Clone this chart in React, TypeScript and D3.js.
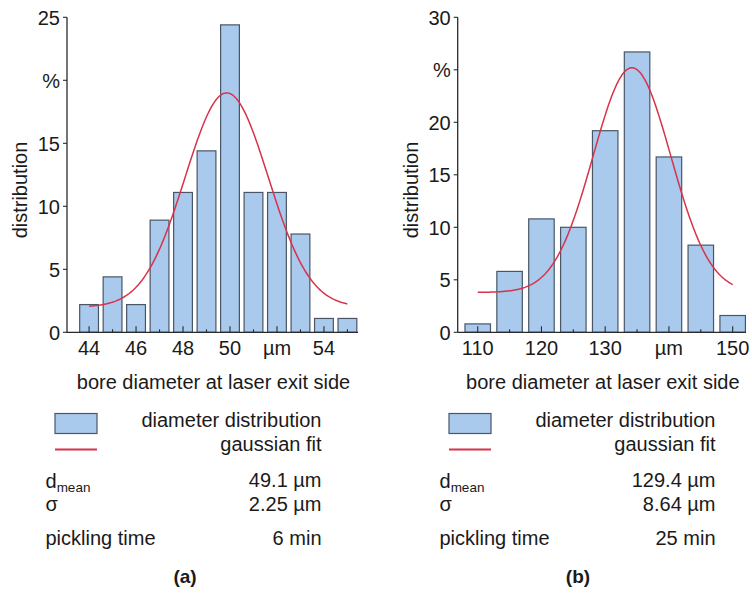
import { useEffect, useRef } from 'react'
import * as d3 from 'd3'

// panel (a): 6 min pickling
const binsA = [44, 45, 46, 47, 48, 49, 50, 51, 52, 53, 54, 55]
const valuesA = [2.2, 4.4, 2.2, 8.9, 11.1, 14.4, 24.4, 11.1, 11.1, 7.8, 1.1, 1.1]
const xTickLabelsA = ['44', '46', '48', '50', 'µm', '54']
const xMajorA = [44, 46, 48, 50, 52, 54]
const yTicksA = [0, 5, 10, 15, 20, 25]
const yTickLabelsA = ['0', '5', '10', '15', '%', '25']
const fitA = { xc: 49.86, sigma: 1.77, amp: 17.0, y0: 2.0, from: 44, to: 55 }
const statsA = ['49.1 µm', '2.25 µm', '6 min']

// panel (b): 25 min pickling
const binsB = [110, 115, 120, 125, 130, 135, 140, 145, 150]
const valuesB = [0.8, 5.8, 10.8, 10.0, 19.2, 26.7, 16.7, 8.3, 1.6]
const xTickLabelsB = ['110', '120', '130', 'µm', '150']
const xMajorB = [110, 120, 130, 140, 150]
const yTicksB = [0, 5, 10, 15, 20, 25, 30]
const yTickLabelsB = ['0', '5', '10', '15', '20', '%', '30']
const fitB = { xc: 134.2, sigma: 6.1, amp: 21.4, y0: 3.8, from: 110, to: 150 }
const statsB = ['129.4 µm', '8.64 µm', '25 min']

const FONT = "'Liberation Sans', Arial, Helvetica, sans-serif"
const BAR_FILL = '#a9c9ed'
const BAR_STROKE = '#4a5666'
const FIT_COLOR = '#d8334a'
const AXIS_COLOR = '#2b2b2b'

interface Panel {
  bins: number[]
  values: number[]
  xMajor: number[]
  xLabels: string[]
  yTicks: number[]
  yLabels: string[]
  fit: { xc: number; sigma: number; amp: number; y0: number; from: number; to: number }
  stats: string[]
  tag: string
  xDomain: [number, number]
  xRange: [number, number]
  yMax: number
  barWidth: number
  minorStep: number
  yLabelX: number
  legendX: number
  textRight: number
  tagX: number
}

const panels: Panel[] = [
  {
    bins: binsA, values: valuesA, xMajor: xMajorA, xLabels: xTickLabelsA,
    yTicks: yTicksA, yLabels: yTickLabelsA, fit: fitA, stats: statsA, tag: '(a)',
    xDomain: [43.06, 55.45], xRange: [67, 358], yMax: 25, barWidth: 0.8, minorStep: 1,
    yLabelX: 27, legendX: 55, textRight: 321.5, tagX: 185,
  },
  {
    bins: binsB, values: valuesB, xMajor: xMajorB, xLabels: xTickLabelsB,
    yTicks: yTicksB, yLabels: yTickLabelsB, fit: fitB, stats: statsB, tag: '(b)',
    xDomain: [106.86, 152.09], xRange: [457.7, 746], yMax: 30, barWidth: 4, minorStep: 5,
    yLabelX: 418, legendX: 449, textRight: 715.5, tagX: 578,
  },
]

function drawPanel(svg: d3.Selection<SVGSVGElement, unknown, null, undefined>, p: Panel) {
  const y0px = 332.3
  const x = d3.scaleLinear().domain(p.xDomain).range(p.xRange)
  const y = d3.scaleLinear().domain([0, p.yMax]).range([y0px, 17.3])
  const g = svg.append('g').attr('font-family', FONT).attr('fill', '#1a1a1a')

  // bars
  g.append('g')
    .selectAll('rect')
    .data(p.bins)
    .join('rect')
    .attr('x', (d) => x(d - p.barWidth / 2))
    .attr('width', (d) => x(d + p.barWidth / 2) - x(d - p.barWidth / 2))
    .attr('y', (_, i) => y(p.values[i]))
    .attr('height', (_, i) => y(0) - y(p.values[i]))
    .attr('fill', BAR_FILL)
    .attr('stroke', BAR_STROKE)
    .attr('stroke-width', 1.2)

  // x ticks (inward), major + minor
  const minor = d3.range(p.bins[0], p.bins[p.bins.length - 1] + 0.001, p.minorStep)
  g.append('g')
    .selectAll('line')
    .data(minor)
    .join('line')
    .attr('x1', (d) => x(d))
    .attr('x2', (d) => x(d))
    .attr('y1', y0px)
    .attr('y2', (d) => y0px - (p.xMajor.includes(d) ? 6 : 3))
    .attr('stroke', AXIS_COLOR)
    .attr('stroke-width', 1.1)

  g.append('g')
    .selectAll('text')
    .data(p.xMajor)
    .join('text')
    .attr('x', (d) => x(d))
    .attr('y', 355)
    .attr('text-anchor', 'middle')
    .attr('font-size', 20)
    .text((_, i) => p.xLabels[i])

  // y ticks (outward)
  g.append('g')
    .selectAll('line')
    .data(p.yTicks)
    .join('line')
    .attr('x1', p.xRange[0] - 4)
    .attr('x2', p.xRange[0])
    .attr('y1', (d) => y(d))
    .attr('y2', (d) => y(d))
    .attr('stroke', AXIS_COLOR)
    .attr('stroke-width', 1.1)

  g.append('g')
    .selectAll('text')
    .data(p.yTicks)
    .join('text')
    .attr('x', p.xRange[0] - 7)
    .attr('y', (d) => y(d))
    .attr('dy', '0.36em')
    .attr('text-anchor', 'end')
    .attr('font-size', 20)
    .text((_, i) => p.yLabels[i])

  // axis lines
  g.append('line')
    .attr('x1', p.xRange[0]).attr('x2', p.xRange[1])
    .attr('y1', y0px).attr('y2', y0px)
    .attr('stroke', AXIS_COLOR).attr('stroke-width', 1.3)
  g.append('line')
    .attr('x1', p.xRange[0]).attr('x2', p.xRange[0])
    .attr('y1', y0px).attr('y2', y(p.yMax))
    .attr('stroke', AXIS_COLOR).attr('stroke-width', 1.3)

  // gaussian fit from fitted parameters
  const f = p.fit
  const xs = d3.range(f.from, f.to + 0.0001, (f.to - f.from) / 200)
  const line = d3
    .line<number>()
    .x((d) => x(d))
    .y((d) => y(f.y0 + f.amp * Math.exp(-((d - f.xc) ** 2) / (2 * f.sigma ** 2))))
  g.append('path')
    .datum(xs)
    .attr('d', line)
    .attr('fill', 'none')
    .attr('stroke', FIT_COLOR)
    .attr('stroke-width', 1.5)

  // axis titles
  g.append('text')
    .attr('transform', `translate(${p.yLabelX},190) rotate(-90)`)
    .attr('text-anchor', 'middle')
    .attr('font-size', 20)
    .text('distribution')
  g.append('text')
    .attr('x', (p.xRange[0] + p.xRange[1]) / 2 + 1)
    .attr('y', 389)
    .attr('text-anchor', 'middle')
    .attr('font-size', 20)
    .text('bore diameter at laser exit side')

  // legend
  g.append('rect')
    .attr('x', p.legendX).attr('y', 413.5)
    .attr('width', 42).attr('height', 20)
    .attr('fill', BAR_FILL).attr('stroke', BAR_STROKE).attr('stroke-width', 1.2)
  g.append('line')
    .attr('x1', p.legendX).attr('x2', p.legendX + 42)
    .attr('y1', 449.5).attr('y2', 449.5)
    .attr('stroke', FIT_COLOR).attr('stroke-width', 2)

  const right = (txt: string, yy: number) =>
    g.append('text').attr('x', p.textRight).attr('y', yy).attr('text-anchor', 'end').attr('font-size', 20).text(txt)
  right('diameter distribution', 427)
  right('gaussian fit', 451)
  right(p.stats[0], 487)
  right(p.stats[1], 511)
  right(p.stats[2], 545)

  const dm = g.append('text').attr('x', p.legendX - 9.5).attr('y', 488).attr('font-size', 20)
  dm.append('tspan').text('d')
  dm.append('tspan').attr('font-size', 13.5).attr('dy', 4).text('mean')
  g.append('text').attr('x', p.legendX - 9.5).attr('y', 511).attr('font-size', 20).text('σ')
  g.append('text').attr('x', p.legendX - 9.5).attr('y', 545).attr('font-size', 20).text('pickling time')

  g.append('text')
    .attr('x', p.tagX).attr('y', 583)
    .attr('text-anchor', 'middle')
    .attr('font-size', 19)
    .attr('font-weight', 'bold')
    .text(p.tag)
}

export default function App() {
  const ref = useRef<SVGSVGElement | null>(null)

  useEffect(() => {
    if (!ref.current) {return}
    const svg = d3.select(ref.current)
    svg.selectAll('*').remove()
    panels.forEach((p) => drawPanel(svg, p))
  }, [])

  return (
    <div style={{ position: 'absolute', left: 0, top: 0, width: 752, height: 595, background: '#fff' }}>
      <svg ref={ref} width={752} height={595} role="img" aria-label="Bore diameter distributions" style={{ display: 'block' }} />
    </div>
  )
}
